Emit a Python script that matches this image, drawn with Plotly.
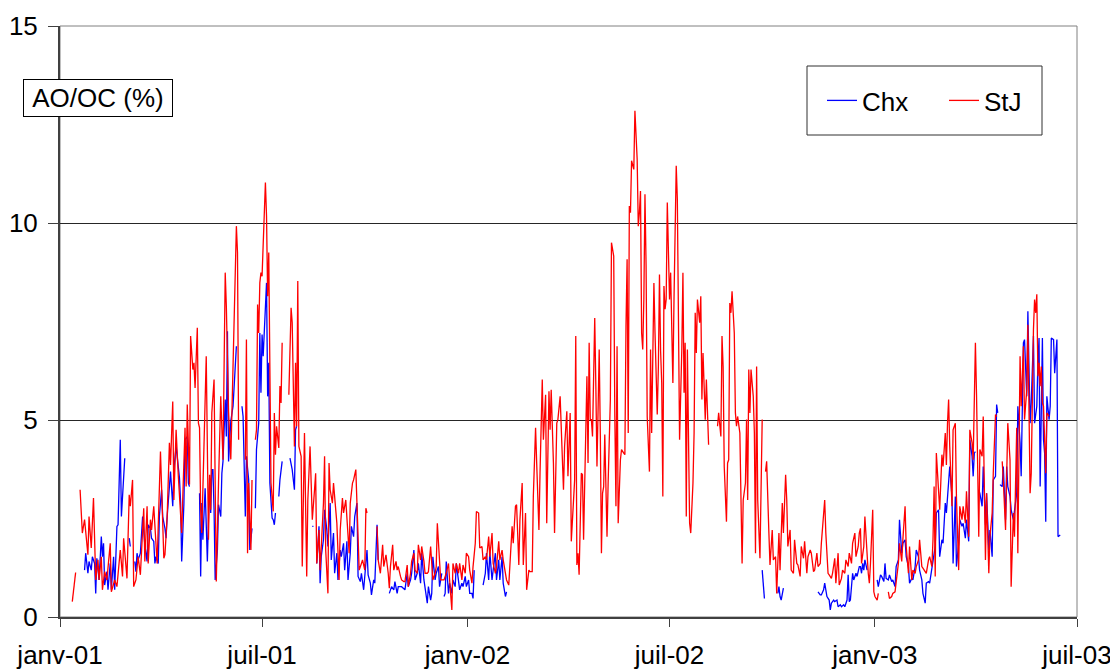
import pandas as pd
import plotly.graph_objects as go

START = pd.Timestamp("2001-01-01")

# (day offset from 1 Jan 2001, AO/OC %) ; None = gap in record
stj_2001 = [(11,0.39),(13,0.90),(14,1.13),(16,None),(18,3.23),(20,2.13),(22,2.47),(24,1.96),(25,1.58),(26,2.55),(28,1.75),(30,3.02),(32,0.94),(34,1.45),(35,0.94),(37,1.53),(38,0.69),(40,1.15),(42,0.94),(45,1.87),(46,0.64),(49,0.94),(51,0.77),(54,1.70),(56,1.03),(57,2.00),(60,0.98),(62,3.10),(63,2.81),(65,3.48),(66,0.77),(68,0.94),(70,1.53),(72,1.07),(75,2.76),(76,1.41),(78,2.81),(79,1.36),(81,2.47),(82,2.21),(84,2.81),(87,1.36),(90,4.20),(93,1.49),(94,1.58),(96,2.55),(98,4.42),(99,3.86),(101,5.47),(102,2.97),(104,4.75),(106,3.57),(109,2.13),(110,3.06),(112,4.80),(113,3.31),(114,5.39),(116,3.36),(117,7.13),(119,6.28),(120,6.45),(121,5.81),(123,7.34),(124,4.92),(125,4.80),(126,2.72),(127,2.13),(131,6.62),(133,1.96),(134,3.61),(135,2.72),(136,5.18),(138,6.03),(139,3.40),(140,0.90),(142,3.40),(144,5.60),(146,3.99),(148,8.74),(149,7.89),(151,5.20),(153,4.00),(156,7.38),(158,9.92),(159,9.25),(160,4.50),(163,None),(166,3.99),(167,7.04),(168,1.62),(169,3.40),(171,1.70),(172,3.48),(173,None),(175,4.50),(176,4.75),(177,7.93),(178,7.21),(179,8.48),(180,8.74),(181,8.65),(183,10.43),(184,11.03),(185,10.18),(186,8.14),(187,9.25),(188,6.79),(189,3.40),(191,2.68),(192,5.18),(193,4.12),(194,4.84),(196,4.29),(197,5.86),(198,5.43),(199,6.96),(202,None),(205,5.64),(207,7.85),(208,7.47),(210,4.33),(211,6.45),(212,4.84),(213,8.53),(214,4.33),(216,4.08),(217,1.28),(219,4.67),(221,1.03),(222,2.97),(224,4.33),(225,3.40),(226,2.47),(228,3.23),(229,3.65),(230,1.36),(232,2.21),(233,1.19),(234,1.87),(236,2.89),(237,4.08),(238,1.70),(240,0.60),(241,3.91),(242,3.23),(244,2.89),(245,3.40),(247,2.55),(248,2.38),(250,0.94),(251,2.21),(253,3.02),(254,2.64),(256,2.97),(257,2.47),(259,1.62),(260,2.89),(262,3.40),(263,3.48),(265,3.74),(266,2.89),(267,2.21),(268,1.19),(270,1.36),(271,1.45),(273,1.19),(274,2.76),(275,2.64),(279,None),(284,2.30),(285,1.45),(287,1.11),(288,1.58),(289,1.83),(290,1.28),(292,1.58),(294,1.11),(295,0.73),(296,1.28),(298,1.83),(299,1.19),(301,1.41),(302,1.19),(303,1.28),(305,1.03),(306,0.94),(308,0.90),(309,0.90),(311,1.32),(312,0.77),(314,1.11),(315,1.41),(317,1.62),(318,1.19),(320,1.11),(321,1.83),(323,1.45),(324,1.79),(326,1.41),(327,1.11),(329,1.11),(330,1.15),(332,1.79),(333,1.19),(334,0.94),(336,1.11),(337,1.28),(338,2.38),(340,1.45),(341,0.94),(343,0.94),(344,0.94),(346,1.11),(348,1.36),(349,0.94),(351,0.18),(352,1.36),(354,1.11),(355,1.36),(357,1.11),(358,1.36),(360,0.94),(361,1.32),(363,1.11),(364,1.62)]

stj_2002 = [(366,1.53),(367,1.19),(369,0.86),(370,1.28),(372,1.87),(373,2.68),(375,2.64),(376,1.75),(378,1.79),(379,1.45),(381,1.53),(382,1.45),(384,2.04),(385,1.53),(387,2.13),(388,1.36),(390,1.11),(391,1.28),(393,1.92),(394,1.45),(396,1.70),(397,1.45),(399,1.11),(400,0.94),(402,0.81),(403,1.28),(405,2.30),(406,1.87),(408,2.81),(409,2.85),(411,1.32),(412,2.47),(414,3.40),(415,1.32),(417,2.64),(418,0.69),(420,1.19),(421,1.15),(423,1.15),(424,3.06),(426,4.80),(427,3.91),(429,2.21),(430,3.65),(432,6.03),(433,4.50),(435,5.64),(436,2.38),(438,5.73),(439,4.75),(440,5.77),(442,3.91),(443,2.13),(445,4.92),(446,5.01),(448,5.60),(449,4.75),(451,3.23),(452,4.33),(454,5.22),(455,3.57),(457,5.18),(458,1.92),(460,3.06),(461,3.48),(462,7.13),(463,1.32),(464,1.62),(465,1.07),(467,3.65),(468,3.61),(469,1.96),(471,4.67),(472,6.11),(473,3.91),(474,6.96),(475,5.01),(476,5.01),(477,4.58),(478,6.53),(479,7.59),(480,5.86),(481,3.82),(482,5.26),(483,6.79),(484,4.63),(485,1.62),(486,3.14),(487,3.31),(488,4.63),(490,2.04),(491,3.40),(493,5.52),(494,9.50),(496,9.16),(497,5.09),(498,2.81),(499,6.87),(500,2.38),(502,3.99),(503,4.25),(505,4.16),(506,4.12),(507,7.38),(508,9.08),(509,4.67),(510,10.43),(511,10.26),(512,11.58),(514,11.36),(515,12.85),(517,11.62),(518,9.92),(519,10.26),(520,10.81),(521,7.21),(522,6.79),(523,8.06),(524,10.73),(525,8.91),(526,5.09),(528,3.69),(529,6.79),(530,4.67),(532,8.48),(533,7.21),(535,5.14),(536,6.36),(537,8.69),(538,6.75),(539,5.94),(540,3.06),(541,8.40),(542,7.81),(543,8.06),(544,10.52),(546,8.06),(547,8.74),(548,7.21),(549,5.94),(550,8.06),(551,9.92),(552,11.45),(553,10.60),(554,7.97),(555,4.50),(557,6.79),(558,8.74),(559,5.69),(560,6.96),(561,2.55),(562,6.79),(564,2.38),(565,2.13),(567,3.40),(568,4.67),(569,7.72),(570,6.70),(571,8.06),(573,7.47),(574,8.14),(575,5.52),(576,6.70),(578,5.01),(579,6.03),(580,5.18),(581,4.37),(585,None),(589,4.84),(590,5.18),(592,4.58),(593,7.13),(594,6.36),(595,3.82),(597,2.42),(598,3.91),(599,3.99),(600,7.97),(601,7.72),(602,8.27),(604,7.21),(605,5.18),(606,4.84),(607,5.09),(609,4.67),(610,2.55),(611,1.36),(612,2.97),(614,3.40),(615,5.01),(616,2.97),(617,6.28),(618,5.18),(619,6.28),(621,5.60),(622,4.67),(623,1.62),(624,6.36),(625,2.97),(627,1.49),(628,3.82),(629,5.01),(630,None),(632,3.69),(633,3.95),(635,2.13),(636,1.32),(638,2.21),(639,1.45),(641,1.53),(642,0.60),(644,2.13),(645,1.19),(647,2.89),(648,2.13),(650,3.61),(651,2.97),(652,1.79),(654,2.21),(655,1.19),(657,1.11),(658,1.96),(660,1.36),(661,1.32),(663,1.03),(664,1.79),(666,1.49),(667,1.92),(669,1.11),(670,1.53),(672,1.70),(673,1.62),(675,1.15),(676,1.19),(678,1.62),(679,1.28),(681,1.36),(682,1.87),(684,2.72),(685,2.97),(686,2.13),(688,1.11),(689,1.07),(691,0.98),(692,1.11),(694,1.49),(695,0.86),(697,1.62),(698,0.81),(700,0.98),(701,1.19),(703,1.11),(704,1.45),(706,1.28),(707,1.62),(709,1.36),(710,1.87),(712,2.13),(713,1.53),(715,1.79),(716,2.13),(717,2.25),(718,1.36),(719,1.62),(720,1.79),(721,2.55),(723,1.53),(724,1.11),(725,0.86),(726,1.36),(728,2.72),(729,0.64)]

stj_2003 = [(730,0.52),(732,0.43),(733,0.60),(737,None),(742,0.64),(743,0.47),(745,0.52),(746,0.60),(748,0.64),(749,0.94),(751,1.36),(752,1.87),(754,1.41),(755,1.96),(757,2.81),(758,1.79),(760,1.11),(761,1.79),(763,0.94),(764,1.19),(766,1.11),(767,1.28),(769,1.45),(770,1.96),(772,1.28),(773,1.24),(775,1.15),(776,1.11),(778,1.45),(779,1.53),(781,1.28),(782,1.96),(783,3.31),(784,1.03),(785,4.16),(787,3.14),(788,2.72),(790,4.12),(791,3.82),(793,4.67),(794,3.86),(795,4.92),(796,5.52),(797,4.33),(799,2.81),(800,4.75),(802,4.92),(803,3.06),(805,1.19),(806,2.81),(808,2.47),(809,2.81),(811,2.38),(812,3.19),(814,2.04),(815,4.75),(817,4.42),(818,3.99),(820,6.96),(821,5.64),(822,3.31),(823,2.04),(824,4.25),(826,4.08),(827,5.09),(829,1.45),(830,3.14),(832,1.11),(833,2.04),(835,2.64),(836,3.65),(837,4.63),(838,5.14),(839,5.09),(841,None),(844,3.95),(845,3.48),(847,2.21),(848,3.99),(849,4.92),(851,3.99),(852,0.77),(854,2.64),(855,2.04),(857,4.80),(858,1.62),(860,6.62),(861,5.35),(863,6.87),(864,5.01),(866,5.77),(867,7.42),(869,3.14),(870,3.65),(872,7.30),(873,8.06),(874,7.72),(875,8.19),(876,6.11),(877,6.45),(878,5.86),(879,6.36),(880,5.43),(881,5.35),(883,3.65),(884,5.18),(886,5.09)]

chx_2001 = [(22,1.19),(23,1.62),(25,1.11),(26,1.41),(28,1.19),(29,1.53),(31,1.36),(32,0.60),(33,1.49),(35,0.94),(37,2.04),(38,1.53),(39,1.87),(40,0.81),(42,1.15),(43,0.69),(45,1.36),(46,0.69),(48,1.53),(49,0.69),(51,2.30),(52,2.34),(54,4.50),(55,2.55),(58,4.03),(60,None),(62,2.00),(63,1.79),(65,None),(67,1.41),(68,1.15),(69,1.62),(70,1.45),(72,1.62),(74,2.55),(76,1.83),(78,1.41),(79,2.34),(81,2.25),(82,2.00),(84,1.92),(85,1.36),(86,1.53),(88,1.36),(89,2.55),(91,3.23),(92,2.55),(94,2.25),(95,2.00),(96,2.55),(98,3.23),(99,3.69),(101,2.81),(102,3.74),(104,4.33),(105,3.99),(107,3.53),(108,2.93),(109,1.41),(111,2.89),(112,4.50),(114,4.58),(115,3.40),(116,3.31),(120,None),(125,3.14),(126,1.03),(127,2.89),(128,1.96),(130,3.27),(131,2.13),(132,1.41),(134,3.53),(135,2.64),(136,3.74),(137,3.74),(138,2.72),(139,0.94),(141,1.70),(142,2.85),(144,2.55),(145,3.65),(146,3.95),(148,5.52),(149,4.58),(150,7.25),(151,3.95),(153,4.97),(155,5.35),(157,6.45),(158,6.87),(160,None),(163,5.35),(164,5.09),(166,2.55),(167,4.08),(169,3.48),(170,1.70),(172,2.25),(173,None),(175,2.76),(176,4.25),(178,4.92),(179,7.21),(180,5.69),(181,7.17),(182,6.62),(184,7.64),(185,8.48),(186,5.60),(187,6.45),(188,3.40),(190,2.51),(191,2.47),(192,2.34),(193,2.64),(194,None),(196,3.06),(197,3.48),(199,3.95),(202,None),(206,4.03),(208,3.74),(210,3.23),(211,4.75),(212,4.84),(219,None),(226,2.30),(227,2.30),(228,None),(230,1.36),(232,2.30),(233,0.86),(234,1.53),(236,1.96),(237,2.72),(239,2.21),(240,1.79),(242,2.89),(243,1.45),(245,2.13),(246,1.11),(248,1.62),(249,0.94),(251,1.70),(252,1.53),(254,1.87),(255,1.19),(257,1.92),(258,0.94),(260,1.62),(261,2.30),(263,2.04),(264,2.55),(266,2.89),(267,1.03),(269,0.90),(270,1.11),(272,0.69),(273,1.11),(275,1.70),(276,1.07),(278,0.86),(279,0.56),(281,0.94),(282,0.86),(284,2.34),(285,1.45),(290,None),(295,0.60),(297,0.77),(299,0.69),(300,0.90),(302,0.60),(303,0.77),(306,0.77),(309,0.69),(311,1.11),(312,0.77),(314,0.94),(315,1.11),(317,1.70),(318,0.94),(320,1.11),(321,1.36),(323,0.86),(324,1.62),(326,0.94),(327,0.69),(329,0.35),(330,0.77),(332,0.43),(333,0.60),(334,1.53),(336,0.94),(337,1.11),(339,1.28),(340,0.77),(342,1.11),(343,None),(344,0.52),(345,0.60),(346,1.41),(348,0.60),(349,0.86),(351,0.60),(352,0.94),(354,0.77),(355,1.36),(357,0.86),(358,0.69),(360,0.86),(361,0.77),(363,1.03),(364,0.77)]

chx_2002 = [(366,0.94),(367,0.60),(369,0.60),(370,0.47),(371,1.19),(375,None),(379,0.81),(381,1.11),(382,1.62),(384,0.94),(385,1.66),(387,0.94),(388,1.19),(390,1.62),(391,0.94),(393,1.45),(394,0.94),(396,1.53),(397,0.86),(399,0.52),(400,0.64),(515,None),(629,1.19),(631,0.47),(636,None),(643,0.60),(644,0.77),(645,0.52),(646,0.43),(648,0.73),(660,None),(679,0.64),(681,0.56),(682,0.56),(684,0.69),(685,0.86),(686,0.64),(687,0.52),(689,0.43),(690,0.18),(691,0.35),(693,0.43),(694,0.39),(696,0.43),(697,0.26),(699,0.31),(700,0.26),(702,0.31),(703,0.26),(705,0.43),(706,1.07),(707,0.39),(708,0.43),(710,1.11),(711,0.94),(713,1.11),(714,1.03),(716,1.28),(717,1.28),(718,1.11),(719,1.36),(720,1.19),(721,1.45),(723,1.19),(727,None)]

chx_2003 = [(732,0.94),(733,0.77),(735,1.07),(736,1.03),(738,0.90),(739,1.36),(740,0.98),(742,0.94),(743,1.07),(745,0.90),(746,0.94),(748,0.77),(749,1.28),(751,1.45),(752,2.47),(754,1.62),(755,1.87),(757,1.96),(758,1.53),(760,1.28),(761,0.86),(763,0.98),(764,0.94),(766,1.28),(767,1.70),(769,1.53),(770,1.19),(772,0.94),(773,0.60),(775,0.35),(776,0.86),(778,0.90),(779,0.86),(781,1.28),(782,1.36),(784,1.79),(785,2.64),(787,2.72),(788,1.53),(790,1.96),(791,1.87),(793,2.89),(794,2.64),(796,3.65),(797,3.82),(799,3.06),(800,1.36),(802,3.06),(803,1.28),(805,1.87),(806,2.47),(808,2.30),(809,2.38),(811,2.00),(812,2.47),(814,1.92),(815,4.50),(817,4.08),(818,3.57),(819,4.16),(820,4.20),(821,None),(823,3.23),(824,3.14),(826,2.81),(827,3.82),(829,2.34),(830,3.14),(832,1.70),(833,2.21),(835,1.53),(836,3.48),(838,3.57),(839,5.39),(840,5.18),(841,None),(842,3.36),(844,3.31),(845,3.82),(847,2.47),(848,3.82),(849,3.31),(851,3.06),(852,2.72),(854,2.47),(855,2.72),(857,3.14),(858,5.35),(860,4.42),(861,3.57),(863,6.96),(864,7.04),(866,5.60),(867,7.76),(869,4.92),(870,5.43),(872,7.13),(873,4.92),(875,5.35),(876,6.45),(877,7.08),(878,3.31),(880,7.08),(881,4.50),(882,4.16),(883,2.42),(884,5.60),(886,5.01),(887,5.35),(888,7.08),(890,7.04),(891,6.19),(893,7.04),(894,2.04),(896,2.08)]

tick_dates = ["2001-01-01", "2001-07-01", "2002-01-01", "2002-07-01", "2003-01-01", "2003-07-01"]
tick_labels = ["janv-01", "juil-01", "janv-02", "juil-02", "janv-03", "juil-03"]
y_ticks = [0, 5, 10, 15]

FONT = "Liberation Sans, Arial, sans-serif"


def unpack(*chunks):
    pairs = [p for c in chunks for p in c]
    days = [p[0] for p in pairs]
    vals = [p[1] for p in pairs]
    return START + pd.to_timedelta(days, unit="D"), vals


chx_x, chx_y = unpack(chx_2001, chx_2002, chx_2003)
stj_x, stj_y = unpack(stj_2001, stj_2002, stj_2003)

fig = go.Figure()
fig.add_trace(go.Scatter(x=chx_x, y=chx_y, mode="lines", name="Chx",
                         line=dict(color="#0000FF", width=1.3), connectgaps=False))
fig.add_trace(go.Scatter(x=stj_x, y=stj_y, mode="lines", name="StJ",
                         line=dict(color="#FF0000", width=1.3), connectgaps=False))

# page body has an 8px margin: the figure is placed at (8, 8) in the window
OFF = 8
W, H = 1118 - OFF, 670 - OFF
L, R, T, B = 60 - OFF, 1118 - 1077, 26 - OFF, 670 - 617
pw, ph = W - L - R, H - T - B


def px_x(p):
    return (p - OFF - L) / pw


def px_y(p):
    return (H - B - (p - OFF)) / ph


fig.update_layout(
    width=W, height=H,
    margin=dict(l=L, r=R, t=T, b=B, pad=0, autoexpand=False),
    paper_bgcolor="white", plot_bgcolor="white",
    font=dict(family=FONT, size=26, color="black"),
    showlegend=True,
    legend=dict(orientation="h", x=px_x(822), xanchor="left",
                y=px_y(100.5), yanchor="middle",
                bgcolor="rgba(0,0,0,0)", borderwidth=0,
                font=dict(family=FONT, size=26, color="black"),
                entrywidth=77, entrywidthmode="pixels", itemwidth=30),
    xaxis=dict(type="date", range=[tick_dates[0], tick_dates[-1]],
               tickmode="array", tickvals=tick_dates, ticktext=tick_labels,
               ticks="outside", ticklen=8, tickwidth=1, tickcolor="#404040",
               showline=True, linecolor="#404040", linewidth=2,
               showgrid=False, zeroline=False, automargin=False,
               tickfont=dict(family=FONT, size=26, color="black"),
               ticklabelstandoff=6),
    yaxis=dict(range=[0, 15], tickmode="array", tickvals=y_ticks,
               ticks="outside", ticklen=10, tickwidth=1, tickcolor="#404040",
               showline=True, linecolor="#404040", linewidth=2,
               showgrid=True, gridcolor="#262626", gridwidth=1, zeroline=False,
               automargin=False,
               tickfont=dict(family=FONT, size=26, color="black"),
               ticklabelstandoff=5),
    shapes=[
        dict(type="rect", xref="paper", yref="paper", x0=0, x1=1, y0=0, y1=1,
             line=dict(color="#808080", width=1), layer="below"),
        dict(type="rect", xref="paper", yref="paper",
             x0=px_x(807), x1=px_x(1042), y0=px_y(135), y1=px_y(66),
             line=dict(color="#303030", width=1), fillcolor="white", layer="above"),
    ],
    annotations=[
        dict(text="AO/OC (%)", xref="paper", yref="paper",
             x=px_x(97.5), y=px_y(98), xanchor="center", yanchor="middle",
             showarrow=False, bgcolor="white", bordercolor="black", borderwidth=1,
             borderpad=0, width=148, height=36,
             font=dict(family=FONT, size=26, color="black")),
    ],
)

fig.write_html("out.html")
